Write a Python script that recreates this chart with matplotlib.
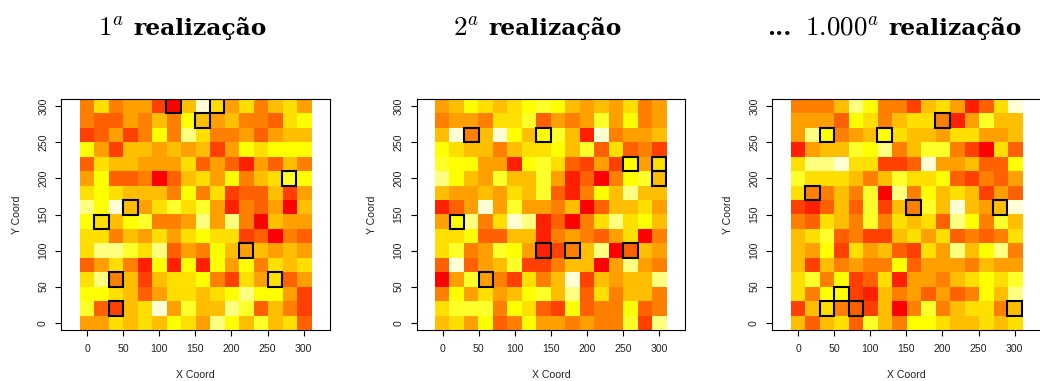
import matplotlib
matplotlib.use("Agg")
import numpy as np
import matplotlib.pyplot as plt
from matplotlib.colors import ListedColormap
from matplotlib.patches import Rectangle

plt.rcParams['mathtext.fontset'] = 'cm'
plt.rcParams['font.family'] = ['Liberation Sans', 'DejaVu Sans']

# heat.colors(12): red -> yellow -> pale yellow
heat12 = ['#FF0000', '#FF2000', '#FF4000', '#FF6000', '#FF8000', '#FF9F00',
          '#FFBF00', '#FFDF00', '#FFFF00', '#FFFF2A', '#FFFF80', '#FFFFD5']

# simulated class per 20x20 cell, rows from y=300 (top) down to y=0
sim1 = [
    [4, 7, 4, 5, 5, 2, 0, 6, 11, 7, 5, 7, 4, 6, 7, 5],
    [4, 3, 3, 5, 4, 6, 4, 8, 6, 5, 6, 4, 4, 3, 7, 8],
    [2, 3, 5, 2, 4, 8, 4, 10, 7, 4, 4, 5, 3, 5, 6, 6],
    [8, 5, 2, 6, 6, 5, 6, 5, 6, 2, 5, 8, 7, 8, 8, 8],
    [3, 7, 6, 6, 5, 5, 5, 7, 3, 5, 3, 1, 5, 3, 6, 4],
    [5, 8, 3, 3, 4, 0, 3, 6, 7, 5, 8, 4, 6, 7, 9, 8],
    [7, 8, 7, 6, 6, 6, 4, 8, 4, 7, 2, 3, 3, 6, 2, 5],
    [10, 8, 11, 6, 5, 7, 9, 7, 9, 5, 1, 4, 3, 5, 0, 6],
    [8, 7, 6, 8, 9, 4, 4, 5, 10, 5, 10, 4, 0, 6, 5, 5],
    [7, 7, 4, 6, 5, 7, 5, 7, 8, 7, 7, 2, 3, 0, 4, 3],
    [7, 10, 10, 9, 7, 10, 3, 5, 4, 8, 6, 5, 6, 5, 6, 5],
    [3, 5, 7, 4, 1, 8, 1, 8, 1, 8, 5, 8, 4, 7, 6, 7],
    [7, 10, 4, 6, 2, 6, 7, 7, 8, 4, 2, 7, 5, 7, 3, 5],
    [8, 8, 7, 6, 3, 5, 7, 7, 6, 7, 8, 10, 8, 8, 5, 2],
    [9, 3, 2, 6, 7, 11, 5, 9, 6, 6, 10, 9, 3, 6, 4, 2],
    [5, 5, 7, 6, 7, 6, 8, 7, 5, 10, 8, 6, 9, 6, 7, 3],
]
sim2 = [
    [5, 6, 8, 7, 6, 7, 8, 9, 8, 6, 5, 6, 5, 7, 4, 5],
    [4, 5, 5, 4, 7, 7, 9, 3, 5, 4, 5, 9, 5, 8, 4, 5],
    [6, 11, 4, 6, 11, 8, 6, 8, 9, 6, 1, 11, 4, 5, 5, 6],
    [8, 7, 6, 6, 4, 6, 7, 7, 8, 6, 9, 3, 7, 3, 4, 2],
    [9, 8, 8, 5, 5, 1, 8, 9, 7, 3, 2, 5, 2, 8, 5, 7],
    [10, 8, 6, 5, 9, 6, 6, 9, 5, 1, 3, 0, 4, 8, 9, 6],
    [6, 5, 5, 6, 5, 7, 6, 9, 3, 1, 4, 8, 6, 10, 6, 6],
    [1, 3, 5, 11, 5, 9, 5, 5, 4, 6, 0, 3, 6, 6, 7, 5],
    [5, 8, 10, 4, 7, 11, 10, 1, 3, 0, 4, 7, 10, 7, 8, 6],
    [7, 7, 8, 3, 3, 6, 6, 1, 4, 5, 4, 3, 5, 7, 0, 4],
    [7, 9, 4, 5, 9, 8, 5, 1, 2, 4, 6, 10, 0, 3, 6, 5],
    [3, 11, 3, 5, 6, 9, 2, 2, 4, 6, 6, 0, 5, 10, 5, 4],
    [0, 5, 9, 5, 4, 2, 7, 4, 6, 11, 2, 6, 5, 6, 6, 10],
    [4, 8, 5, 7, 5, 6, 8, 9, 6, 10, 3, 7, 4, 6, 6, 4],
    [7, 9, 9, 9, 4, 8, 7, 3, 2, 8, 3, 4, 4, 8, 3, 4],
    [6, 7, 5, 8, 3, 4, 8, 5, 5, 4, 5, 4, 4, 9, 2, 10],
]
sim3 = [
    [4, 4, 4, 6, 10, 8, 4, 4, 2, 6, 7, 5, 1, 3, 7, 11],
    [5, 5, 5, 3, 8, 7, 4, 6, 7, 7, 4, 1, 5, 9, 6, 6],
    [5, 10, 8, 4, 5, 6, 8, 7, 6, 6, 5, 7, 7, 5, 5, 6],
    [1, 5, 6, 6, 9, 8, 10, 4, 6, 9, 9, 4, 2, 0, 7, 3],
    [7, 10, 10, 11, 7, 7, 2, 2, 3, 11, 5, 5, 6, 3, 3, 8],
    [9, 7, 7, 7, 6, 4, 6, 9, 7, 7, 8, 3, 2, 4, 3, 5],
    [7, 4, 4, 6, 4, 9, 0, 10, 4, 8, 6, 7, 6, 2, 5, 3],
    [2, 1, 3, 6, 3, 9, 2, 6, 4, 9, 6, 11, 6, 5, 6, 11],
    [4, 3, 7, 6, 4, 9, 4, 7, 6, 7, 3, 10, 8, 4, 9, 6],
    [6, 7, 9, 3, 4, 2, 2, 6, 7, 5, 7, 3, 4, 3, 4, 7],
    [6, 5, 8, 2, 7, 5, 6, 3, 2, 7, 5, 10, 6, 8, 10, 4],
    [6, 2, 6, 4, 5, 4, 4, 8, 3, 5, 5, 5, 4, 6, 5, 5],
    [7, 9, 4, 8, 2, 3, 7, 1, 5, 5, 4, 6, 7, 8, 7, 9],
    [7, 4, 8, 8, 2, 1, 6, 4, 5, 3, 5, 3, 4, 8, 6, 10],
    [2, 6, 7, 4, 3, 2, 6, 0, 4, 9, 4, 6, 7, 7, 4, 6],
    [6, 3, 6, 7, 3, 9, 6, 4, 8, 8, 7, 6, 6, 7, 6, 7],
]

# sample locations outlined on each realization
pts1_x = [120, 180, 160, 280, 60, 20, 220, 40, 260, 40]
pts1_y = [300, 300, 280, 200, 160, 140, 100, 60, 60, 20]
pts2_x = [40, 140, 260, 300, 300, 20, 140, 180, 260, 60]
pts2_y = [260, 260, 220, 220, 200, 140, 100, 100, 100, 60]
pts3_x = [200, 40, 120, 20, 160, 280, 60, 40, 80, 300]
pts3_y = [280, 260, 260, 180, 160, 160, 40, 20, 20, 20]

titles = [
    [("$1^a$", "math"), ("realização", "bold")],
    [("$2^a$", "math"), ("realização", "bold")],
    [("...", "bold"), ("$1.000^a$", "math"), ("realização", "bold")],
]
title_gaps = [[9], [9], [14, 9]]
title_cx = [182.5, 537.8, 894.5]

cell = 20
ticks = [0, 50, 100, 150, 200, 250, 300]

W, H = 1040, 381
fig = plt.figure(figsize=(W / 100, H / 100), dpi=100)
cmap = ListedColormap(heat12)

panels = [(sim1, pts1_x, pts1_y), (sim2, pts2_x, pts2_y), (sim3, pts3_x, pts3_y)]
for i, (grid, px, py) in enumerate(panels):
    left = 61 + i * 355.5
    ax = fig.add_axes([left / W, 51 / H, 268.7 / W, 231 / H])
    z = np.array(grid)
    ax.imshow(z, cmap=cmap, vmin=-0.5, vmax=11.5, interpolation='nearest',
              extent=(-cell / 2, 300 + cell / 2, -cell / 2, 300 + cell / 2),
              origin='upper', aspect='auto')
    for x, y in zip(px, py):
        ax.add_patch(Rectangle((x - cell / 2, y - cell / 2), cell, cell,
                               fill=False, ec='black', lw=1.5))
    ax.set_xlim(-36, 336)
    ax.set_ylim(-10, 310)
    ax.set_xticks(ticks)
    ax.set_yticks(ticks)
    ax.tick_params(direction='out', length=4.3, width=0.8, labelsize=7.6,
                   colors='black', labelcolor='#222222')
    ax.tick_params(axis='x', pad=5.5)
    ax.tick_params(axis='y', pad=5, labelrotation=90)
    for lab in ax.get_yticklabels():
        lab.set_va('center')
    for sp in ax.spines.values():
        sp.set_linewidth(0.8)
    ax.set_xlabel("X Coord", fontsize=7.6, color='#222222')
    ax.set_ylabel("Y Coord", fontsize=7.6, color='#222222')
    ax.xaxis.set_label_coords(0.5, -0.173)
    ax.yaxis.set_label_coords(-0.147, 0.5)

# titles: Computer Modern for the ordinal, heavy serif for the words
renderer = fig.canvas.get_renderer()
base_y = 1 - 35 / H
for cx, pieces, gaps in zip(title_cx, titles, title_gaps):
    texts = []
    for s, kind in pieces:
        if kind == "math":
            t = fig.text(0, base_y, s, fontsize=19.5, va='baseline', ha='left')
        else:
            t = fig.text(0, base_y, s, fontsize=16.8, fontweight='bold',
                         family='DejaVu Serif', va='baseline', ha='left')
        texts.append(t)
    widths = [t.get_window_extent(renderer).width for t in texts]
    x = cx - (sum(widths) + sum(gaps)) / 2
    for t, w, g in zip(texts, widths, gaps + [0]):
        t.set_x(x / W)
        x += w + g

fig.savefig("out.png", dpi=100)
